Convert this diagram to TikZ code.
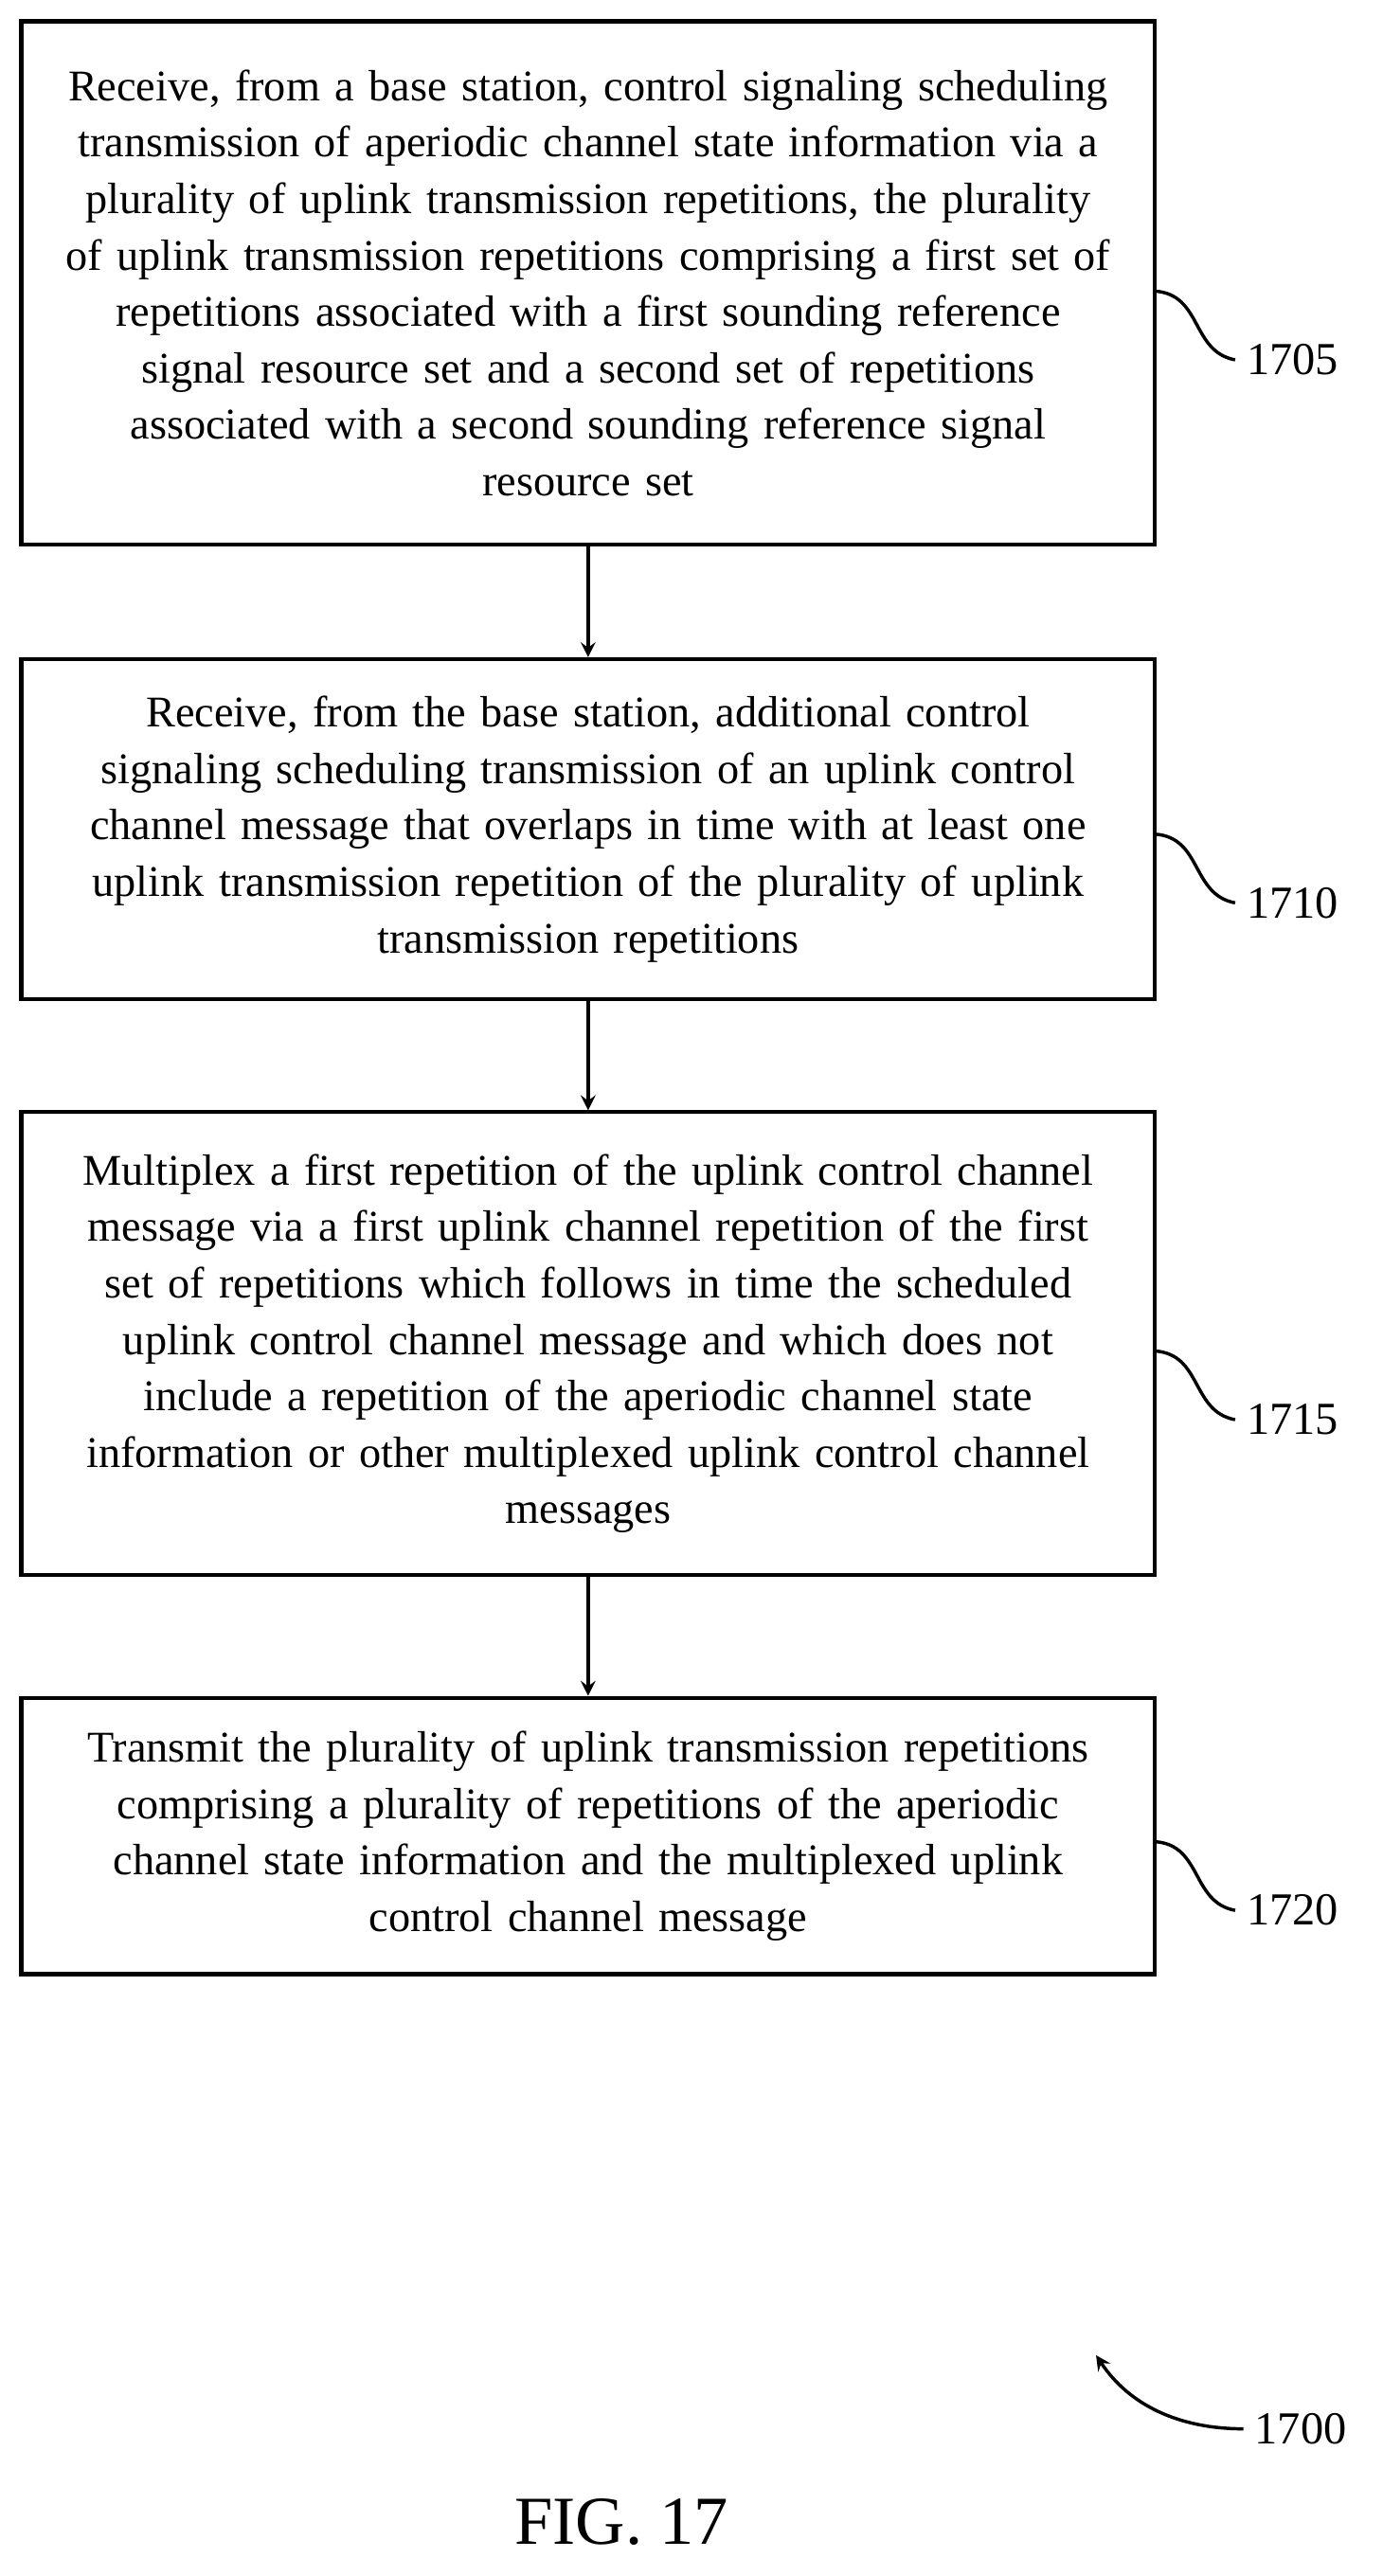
\documentclass[tikz,border=0pt]{standalone}
\usepackage{fontspec}
\setmainfont{Liberation Serif}
\usetikzlibrary{positioning}
\tikzset{
  stepbox/.style={draw, line width=1.2pt, text width=340pt, align=center,
    minimum width=346.5pt, inner sep=0pt, font=\fontsize{13.4}{17.25}\selectfont},
  reflabel/.style={font=\fontsize{14}{15}\selectfont, anchor=west},
  flow/.style={->, line width=1pt, >=stealth},
}
\begin{document}
\begin{tikzpicture}[x=0.5pt,y=-0.5pt]
\useasboundingbox (0,0) rectangle (845,1575);
\node[stepbox, minimum height=160pt] (s1705) at (359.5,173) {Receive, from a base station, control signaling scheduling\\ transmission of aperiodic channel state information via a\\ plurality of uplink transmission repetitions, the plurality\\ of uplink transmission repetitions comprising a first set of\\ repetitions associated with a first sounding reference\\ signal resource set and a second set of repetitions\\ associated with a second sounding reference signal\\ resource set};
\node[stepbox, minimum height=104pt] (s1710) at (359.5,507) {Receive, from the base station, additional control\\ signaling scheduling transmission of an uplink control\\ channel message that overlaps in time with at least one\\ uplink transmission repetition of the plurality of uplink\\ transmission repetitions};
\node[stepbox, minimum height=141.5pt] (s1715) at (359.5,821.5) {Multiplex a first repetition of the uplink control channel\\ message via a first uplink channel repetition of the first\\ set of repetitions which follows in time the scheduled\\ uplink control channel message and which does not\\ include a repetition of the aperiodic channel state\\ information or other multiplexed uplink control channel\\ messages};
\node[stepbox, minimum height=84.5pt] (s1720) at (359.5,1122.5) {Transmit the plurality of uplink transmission repetitions\\ comprising a plurality of repetitions of the aperiodic\\ channel state information and the multiplexed uplink\\ control channel message};
% arrows
\draw[flow] (s1705) -- (s1710);
\draw[flow] (s1710) -- (s1715);
\draw[flow] (s1715) -- (s1720);
% reference labels
\foreach \n/\y in {1705/220,1710/552,1715/868,1720/1168}{
  \node[reflabel] (l\n) at (755,\y) {\n};
  \draw[line width=1pt] (706,\y-42) .. controls (735,\y-40) and (728,\y-5) .. (l\n.west);
}
\node[reflabel] (l1700) at (760,1485) {1700};
\draw[->, line width=1pt, >=stealth] (l1700.west) .. controls (720,1485) and (690,1470) .. (670,1440);
\node[font=\fontsize{21}{22}\selectfont] (fig) at (380,1542) {FIG. 17};
\end{tikzpicture}
\end{document}
